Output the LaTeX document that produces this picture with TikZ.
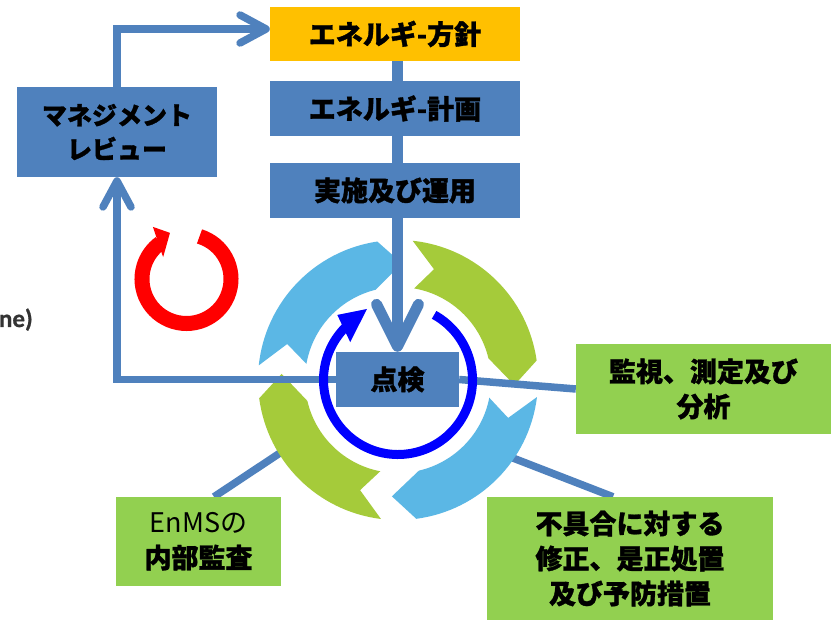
\documentclass[tikz,border=0pt]{standalone}
\usepackage{fontspec}
\setmainfont{Noto Sans CJK JP}[BoldFeatures={FakeBold=1.2}]
\newfontfamily\latinfont{Carlito}[BoldFeatures={FakeBold=0.8}]
\usetikzlibrary{arrows.meta}
\definecolor{boxblue}{HTML}{4F81BD}
\definecolor{boxorange}{HTML}{FFC000}
\definecolor{boxgreen}{HTML}{92D050}
\definecolor{ringblue}{HTML}{5BB7E5}
\definecolor{ringgreen}{HTML}{A5CB3A}
\definecolor{darktext}{HTML}{333333}
\pgfdeclarelayer{lA}
\pgfdeclarelayer{lB}
\pgfdeclarelayer{lC}
\pgfdeclarelayer{lD}
\pgfsetlayers{lA,lB,lC,lD,main}
\newcommand\ringarrow[3]{%
  \fill[#1] (#2:140) arc[start angle=#2, end angle=#3+10.5, radius=140]
    -- (#3:116.5) -- (#3+16:93)
    arc[start angle=#3+16, end angle=#2-4, radius=93]
    -- (#2-12:116.5) -- cycle;}
\begin{document}
\begin{tikzpicture}[x=1pt,y=1pt,
  stepbox/.style={rectangle, inner sep=0pt, font=\bfseries\fontsize{27}{35}\selectfont, align=center, text=black},
  bluebox/.style={stepbox, fill=boxblue},
  greenbox/.style={stepbox, fill=boxgreen},
  conn/.style={draw=boxblue, line width=7.5pt},
  thickconn/.style={draw=boxblue, line width=11pt},
  smallbarb/.style={-{Straight Barb[length=26pt,width=28pt,round]}},
  bigbarb/.style={-{Straight Barb[length=42pt,width=42pt,round]}}]
\begin{pgfonlayer}{lA}
\fill[white] (0,0) rectangle (831,622);
\end{pgfonlayer}
\useasboundingbox (0,0) rectangle (831,622);

% boxes
\node[stepbox, fill=boxorange, minimum width=250pt, minimum height=54pt] (policy) at (395,588) {エネルギ-方針};
\node[bluebox, minimum width=250pt, minimum height=55pt] (plan) at (395,513.5) {エネルギ-計画};
\node[bluebox, minimum width=250pt, minimum height=55pt] (impl) at (395,431.5) {実施及び運用};
\node[bluebox, minimum width=123pt, minimum height=55pt] (check) at (397.5,242.5) {点検};
\node[bluebox, minimum width=200pt, minimum height=90pt, font=\bfseries\fontsize{25}{34}\selectfont] (mgmt) at (117,490) {マネジメント\\レビュー};
\node[greenbox, minimum width=255pt, minimum height=90pt] (monitor) at (703.5,233) {監視、測定及び\\分析};
\node[greenbox, minimum width=286pt, minimum height=123pt] (corr) at (630,63.5) {不具合に対する\\修正、是正処置\\及び予防措置};
\node[greenbox, minimum width=165pt, minimum height=89pt] (enms) at (198.5,80.5) {{\mdseries EnMSの}\\内部監査};
\node[anchor=base east, inner sep=0pt, font=\latinfont\bfseries\fontsize{25}{30}\selectfont, text=darktext] (ne) at (33,295) {ne)};

\coordinate (ringc) at (398,242);
\coordinate (llstart) at (289,175);
\coordinate (lrstart) at (500,169);

\begin{pgfonlayer}{lA}
  \draw[conn] (llstart) -- ([xshift=15.5pt]enms.north);
  \draw[conn] (lrstart) -- ([xshift=-17pt]corr.north);
\end{pgfonlayer}

\begin{pgfonlayer}{lB}
  \begin{scope}[shift={(ringc)}]
    \ringarrow{ringblue}{174}{88}
    \ringarrow{ringgreen}{84}{-2.5}
    \ringarrow{ringblue}{-7}{-93}
    \ringarrow{ringgreen}{-97}{-183}
  \end{scope}
\end{pgfonlayer}

\begin{pgfonlayer}{lC}
  \draw[thickconn, bigbarb] (check.north |- policy.south) -- (check.north);
  \draw[conn, smallbarb] (mgmt.north) |- ([yshift=5pt]policy.west);
  \draw[conn, smallbarb] (check.west) -| (mgmt.south);
  \draw[conn] (check.east) -- (monitor.west);
\end{pgfonlayer}

\begin{pgfonlayer}{lD}
  \begin{scope}[shift={(ringc)}]
    \draw[blue, line width=9pt] (61:74.5) arc[start angle=61, end angle=-225, radius=74.5];
    \fill[blue] (113.6:77.5) -- (133:89) -- (141.6:61) -- cycle;
  \end{scope}
  \begin{scope}[shift={(186.5,343)}]
    \draw[red, line width=15pt] (73:44.5) arc[start angle=73, end angle=-234, radius=44.5];
    \fill[red] (109.7:49) -- (122.8:62) -- (136.9:32) -- cycle;
  \end{scope}
\end{pgfonlayer}
\end{tikzpicture}
\end{document}
